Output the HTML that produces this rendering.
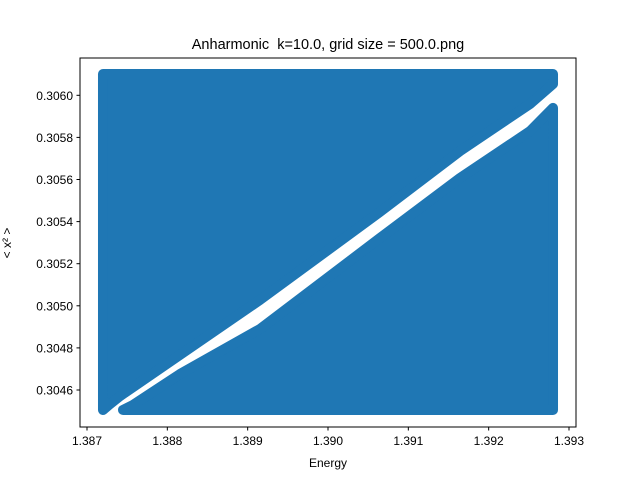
<!DOCTYPE html>
<html><head><meta charset="utf-8"><style>
body{margin:0;background:#fff;}
svg{display:block;font-family:"Liberation Sans","DejaVu Sans",sans-serif;}
</style></head><body>
<svg width="640" height="480" viewBox="0 0 640 480">
<g id="marks"></g>
<rect x="80" y="58" width="496" height="369" fill="none" stroke="#000" stroke-width="1"/>
<g id="xt"></g>
<g id="yt"></g>
<text x="328" y="49" text-anchor="middle" font-size="14.5" style="white-space:pre">Anharmonic  k=10.0, grid size = 500.0.png</text>
<text x="328" y="467" text-anchor="middle" font-size="12">Energy</text>
<text transform="translate(11,243) rotate(-90)" text-anchor="middle" font-size="12">&lt; x² &gt;</text>
</svg>
<script>
const xTicks=[1.387,1.388,1.389,1.390,1.391,1.392,1.393];
const yTicks=[0.3046,0.3048,0.3050,0.3052,0.3054,0.3056,0.3058,0.3060];
const upperE=[1.387199,1.392801,1.392801,1.392515,1.391643,1.390647,1.389154,1.387411,1.387286,1.387199];
const upperV=[0.306101,0.306101,0.306054,0.305959,0.305735,0.305446,0.305028,0.304571,0.304533,0.304505];
const lowerE=[1.387448,1.387573,1.388158,1.389154,1.390647,1.391643,1.392515,1.392801,1.392801];
const lowerV=[0.304505,0.304529,0.304676,0.304890,0.305322,0.305607,0.305830,0.305940,0.304505];
function sx(e){return 87+(e-1.387)*80333;}
function sy(v){return 390-(v-0.3046)*210500;}
const NS="http://www.w3.org/2000/svg";
const marks=document.getElementById('marks');
function poly(E,V,name){
  const p=document.createElementNS(NS,'polygon');
  p.setAttribute('points',E.map((e,i)=>sx(e)+','+sy(V[i])).join(' '));
  p.setAttribute('fill','#1f77b4');p.setAttribute('stroke','#1f77b4');
  p.setAttribute('stroke-width','10');p.setAttribute('stroke-linejoin','round');
  
  
  marks.appendChild(p);
}
poly(upperE,upperV,'upper-scatter-points');
poly(lowerE,lowerV,'lower-scatter-points');
const xt=document.getElementById('xt');
xTicks.forEach(t=>{
  const x=sx(t);
  const l=document.createElementNS(NS,'line');
  l.setAttribute('x1',x);l.setAttribute('x2',x);l.setAttribute('y1',427);l.setAttribute('y2',430.5);l.setAttribute('stroke','#000');
  
  
  xt.appendChild(l);
  const s=document.createElementNS(NS,'text');
  s.setAttribute('x',x);s.setAttribute('y',445);s.setAttribute('text-anchor','middle');s.setAttribute('font-size','12');
  s.textContent=t.toFixed(3);
  
  
  xt.appendChild(s);
});
const yt=document.getElementById('yt');
yTicks.forEach(t=>{
  const y=sy(t);
  const l=document.createElementNS(NS,'line');
  l.setAttribute('x1',76.5);l.setAttribute('x2',80);l.setAttribute('y1',y);l.setAttribute('y2',y);l.setAttribute('stroke','#000');
  
  
  yt.appendChild(l);
  const s=document.createElementNS(NS,'text');
  s.setAttribute('x',73);s.setAttribute('y',y+4.5);s.setAttribute('text-anchor','end');s.setAttribute('font-size','12');
  s.textContent=t.toFixed(4);
  
  
  yt.appendChild(s);
});
</script>
</body></html>
